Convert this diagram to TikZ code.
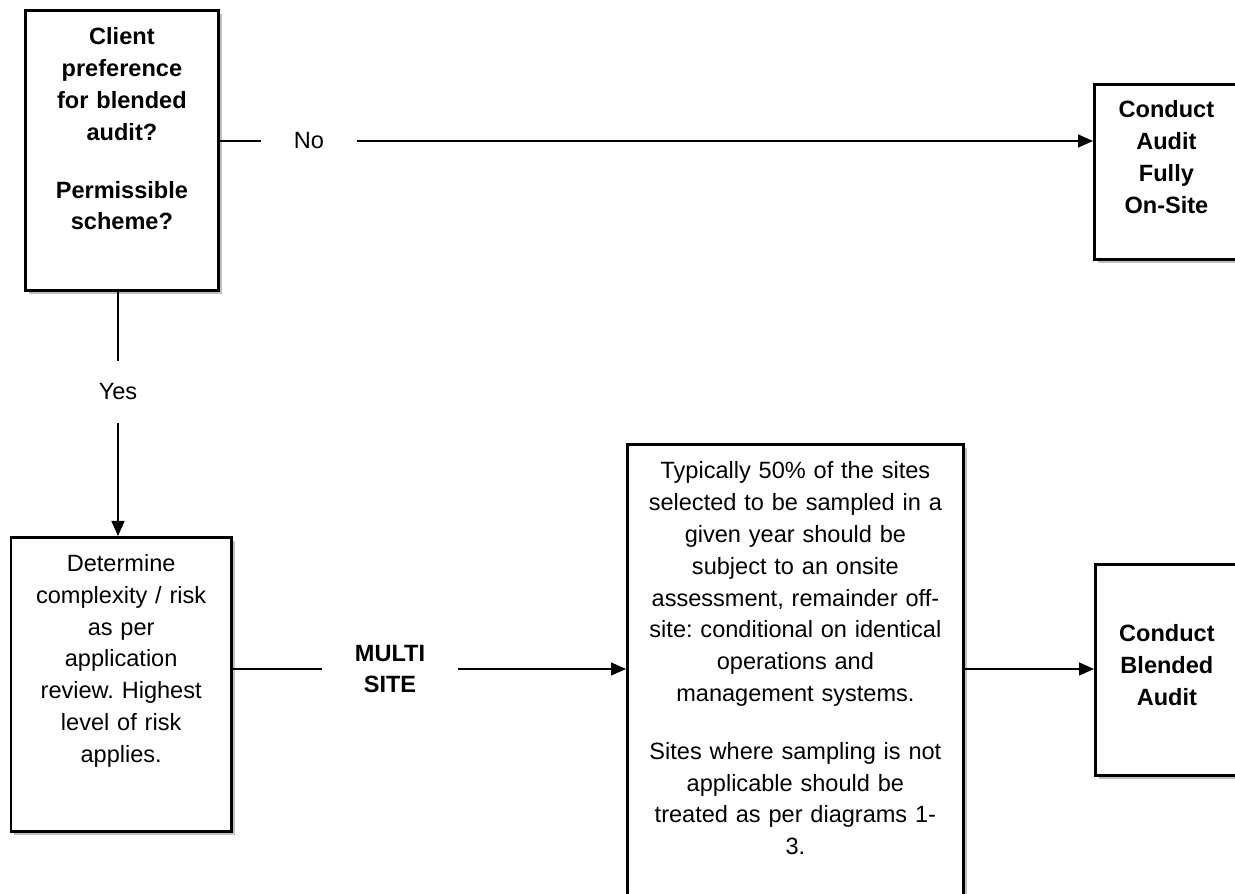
\documentclass[tikz,border=0pt]{standalone}
\usepackage{fontspec}
\setmainfont{Liberation Sans}
\usetikzlibrary{arrows.meta,shadows}
\frenchspacing

\begin{document}
\begin{tikzpicture}[
	font=\fontsize{13.4pt}{18.1pt}\selectfont,
	box/.style={draw, line width=1.6pt, fill=white, inner sep=0pt, align=center, anchor=north west,
		drop shadow={shadow xshift=0.07cm, shadow yshift=-0.07cm, opacity=0.5}},
	lbl/.style={inner xsep=0.66cm, inner ysep=0.44cm, align=center},
	conn/.style={line width=0.7pt, >={Triangle[length=0.3cm, width=0.26cm]}}
	]
				\useasboundingbox (0,0) rectangle (24.7,-17.88);
				\clip (0,0) rectangle (24.7,-17.88);
				\node[box, text width=3.86cm, text height=0.69cm, text depth=4.91cm] (pref)at(0.48, -0.18) {\bfseries Client\\\bfseries preference\\\bfseries for blended\\\bfseries audit?\\[0.52cm]\bfseries Permissible\\\bfseries scheme?};
				\node[box, text width=2.88cm, text height=0.67cm, text depth=2.83cm] (onsite)at(21.86, -1.66) {\bfseries Conduct\\\bfseries Audit\\\bfseries Fully\\\bfseries On-Site};
				\node[box, text width=4.41cm, text height=0.68cm, text depth=5.2cm] (risk)at(0.19, -10.72) {Determine\\complexity / risk\\as per\\application\\review. Highest\\level of risk\\applies.};
				\node[box, text width=6.72cm, text height=0.69cm, text depth=9.2cm] (sample)at(12.52, -8.86) {Typically 50\% of the sites\\selected to be sampled in a\\given year should be\\subject to an onsite\\assessment, remainder off-\\site: conditional on identical\\operations and\\management systems.\\[0.52cm]Sites where sampling is not\\applicable should be\\treated as per diagrams 1-\\3.};
				\node[box, text width=2.86cm, text height=1.55cm, text depth=2.67cm] (blended)at(21.88, -11.26) {\bfseries Conduct\\\bfseries Blended\\\bfseries Audit};
				\node[lbl] (no)at(6.18, -2.82) {No};
				\node[lbl] (yes)at(2.36, -7.84) {Yes};
				\node[lbl, font=\fontsize{13.4pt}{18.1pt}\selectfont\bfseries] (multi)at(7.8, -13.38) {MULTI\\SITE};
				\draw[conn] (pref.east |- no) -- (no.west);
				\draw[conn, ->] (no.east) -- (onsite.west |- no);
				\draw[conn] (pref.south -| yes) -- (yes.north);
				\draw[conn, ->] (yes.south) -- (risk.north -| yes);
				\draw[conn] (risk.east |- multi) -- (multi.west);
				\draw[conn, ->] (multi.east) -- (sample.west |- multi);
				\draw[conn, ->] (sample.east |- multi) -- (blended.west |- multi);
			\end{tikzpicture}
\end{document}
